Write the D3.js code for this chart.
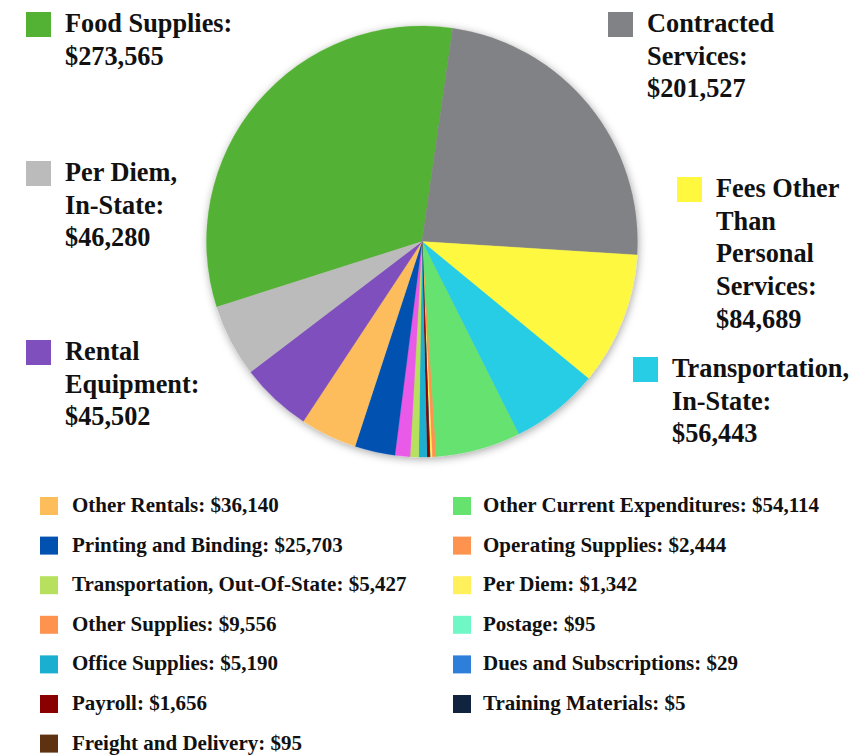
<!DOCTYPE html>
<html>
<head>
<meta charset="utf-8">
<script src="https://cdn.jsdelivr.net/npm/d3@7"></script>
<style>
  html, body { margin: 0; padding: 0; background: #ffffff; }
  svg { display: block; }
</style>
</head>
<body>
<svg id="chart" width="849" height="755"></svg>
<script>
// Expenditure categories, in the order they run clockwise round the pie
const categories = [
  "Food Supplies", "Contracted Services", "Fees Other Than Personal Services",
  "Transportation, In-State", "Other Current Expenditures", "Operating Supplies",
  "Per Diem", "Postage", "Dues and Subscriptions", "Training Materials",
  "Freight and Delivery", "Payroll", "Office Supplies", "Transportation, Out-Of-State",
  "Other Supplies", "Printing and Binding", "Other Rentals", "Rental Equipment",
  "Per Diem, In-State"
];
const amounts = [
  273565, 201527, 84689, 56443, 54114, 2444, 1342, 95, 29, 5,
  95, 1656, 5190, 5427, 9556, 25703, 36140, 45502, 46280
];
const sliceColors = [
  "#53b234", "#818286", "#fff83f", "#27cde4", "#66e26f", "#fe9350",
  "#fff05c", "#6ff8c6", "#2e7fd9", "#10243f", "#5e3210", "#8a0000",
  "#1aaed0", "#b6e05d", "#ea5ae8", "#0051b0", "#fdbd5b", "#7e4fbd",
  "#bbbbbb"
];
const keyColors = [
  "#53b234", "#818286", "#fff83f", "#27cde4", "#66e26f", "#fe9350",
  "#fff05c", "#6ff8c6", "#2e7fd9", "#10243f", "#5e3210", "#8a0000",
  "#1aaed0", "#b6e05d", "#fe9350", "#0051b0", "#fdbd5b", "#7e4fbd",
  "#bbbbbb"
];
// Large callouts beside the pie
const calloutNames = [
  "Food Supplies", "Contracted Services", "Per Diem, In-State",
  "Fees Other Than Personal Services", "Rental Equipment", "Transportation, In-State"
];
// Two-column key below the pie
const keyLeft = [
  "Other Rentals", "Printing and Binding", "Transportation, Out-Of-State",
  "Other Supplies", "Office Supplies", "Payroll", "Freight and Delivery"
];
const keyRight = [
  "Other Current Expenditures", "Operating Supplies", "Per Diem", "Postage",
  "Dues and Subscriptions", "Training Materials"
];

const rows = categories.map((name, i) => ({
  name, value: amounts[i], fill: sliceColors[i], key: keyColors[i]
}));
const byName = new Map(rows.map(d => [d.name, d]));
const money = d3.format("$,");
const serif = "'Liberation Serif', 'Times New Roman', serif";

const svg = d3.select("#chart");

// ---- pie ----
const cx = 422, cy = 241.5, radius = 215.5;
const deg = Math.PI / 180;

const defs = svg.append("defs");
const shadow = defs.append("filter").attr("id", "pieShadow")
  .attr("x", "-10%").attr("y", "-10%").attr("width", "120%").attr("height", "120%");
shadow.append("feDropShadow")
  .attr("dx", 1).attr("dy", 2).attr("stdDeviation", 4)
  .attr("flood-color", "#000000").attr("flood-opacity", 0.35);

const pie = d3.pie().value(d => d.value).sort(null)
  .startAngle(-107.7 * deg).endAngle(252.3 * deg);
const arc = d3.arc().innerRadius(0).outerRadius(radius);

const pieG = svg.append("g")
  .attr("transform", `translate(${cx},${cy})`)
  .attr("filter", "url(#pieShadow)");
pieG.selectAll("path")
  .data(pie(rows))
  .join("path")
  .attr("d", arc)
  .attr("fill", d => d.data.fill)
  .attr("stroke", d => d.data.fill)
  .attr("stroke-width", 0.3);

// ---- large callouts ----
const calloutLayout = {
  "Food Supplies":                       { x: 26,  y: 12,  wrap: 180 },
  "Contracted Services":                 { x: 608, y: 12,  wrap: 135 },
  "Per Diem, In-State":                  { x: 26,  y: 161, wrap: 122 },
  "Fees Other Than Personal Services":   { x: 677, y: 177, wrap: 130 },
  "Rental Equipment":                    { x: 26,  y: 340, wrap: 145 },
  "Transportation, In-State":            { x: 633, y: 357, wrap: 182 }
};
const bigFont = 26.3, bigLine = 32.7, bigBox = 25, bigGap = 14;

function wrapWords(textSel, words, maxWidth) {
  const lines = [];
  let cur = [];
  const probe = textSel.append("tspan");
  words.forEach(w => {
    const trial = cur.concat([w]).join(" ");
    probe.text(trial);
    if (cur.length && probe.node().getComputedTextLength() > maxWidth) {
      lines.push(cur.join(" "));
      cur = [w];
    } else {
      cur.push(w);
    }
  });
  if (cur.length) lines.push(cur.join(" "));
  probe.remove();
  return lines;
}

calloutNames.forEach(name => {
  const d = byName.get(name);
  const L = calloutLayout[name];
  const g = svg.append("g").attr("class", "callout");
  g.append("rect")
    .attr("x", L.x).attr("y", L.y)
    .attr("width", bigBox).attr("height", bigBox)
    .attr("fill", d.key);
  const tx = L.x + bigBox + bigGap;
  const t = g.append("text")
    .attr("x", tx).attr("y", L.y + 20)
    .attr("font-family", serif)
    .attr("font-weight", "bold")
    .attr("font-size", bigFont)
    .attr("fill", "#111111");
  const words = (d.name + ": " + money(d.value)).split(" ");
  const lines = wrapWords(t, words, L.wrap);
  lines.forEach((ln, i) => {
    t.append("tspan").attr("x", tx).attr("dy", i === 0 ? 0 : bigLine).text(ln);
  });
});

// ---- two-column key ----
const smallFont = 21, smallBox = 18, keyTop = 497, keyStep = 39.6;
function drawKey(names, x0, textX) {
  const g = svg.append("g").attr("class", "key");
  const item = g.selectAll("g")
    .data(names.map(n => byName.get(n)))
    .join("g")
    .attr("transform", (d, i) => `translate(0,${keyTop + i * keyStep})`);
  item.append("rect")
    .attr("x", x0).attr("y", 0)
    .attr("width", smallBox).attr("height", smallBox)
    .attr("fill", d => d.key);
  item.append("text")
    .attr("x", textX).attr("y", 15)
    .attr("font-family", serif)
    .attr("font-weight", "bold")
    .attr("font-size", smallFont)
    .attr("fill", "#111111")
    .text(d => d.name + ": " + money(d.value));
}
drawKey(keyLeft, 40, 72);
drawKey(keyRight, 453, 483);
</script>
</body>
</html>
